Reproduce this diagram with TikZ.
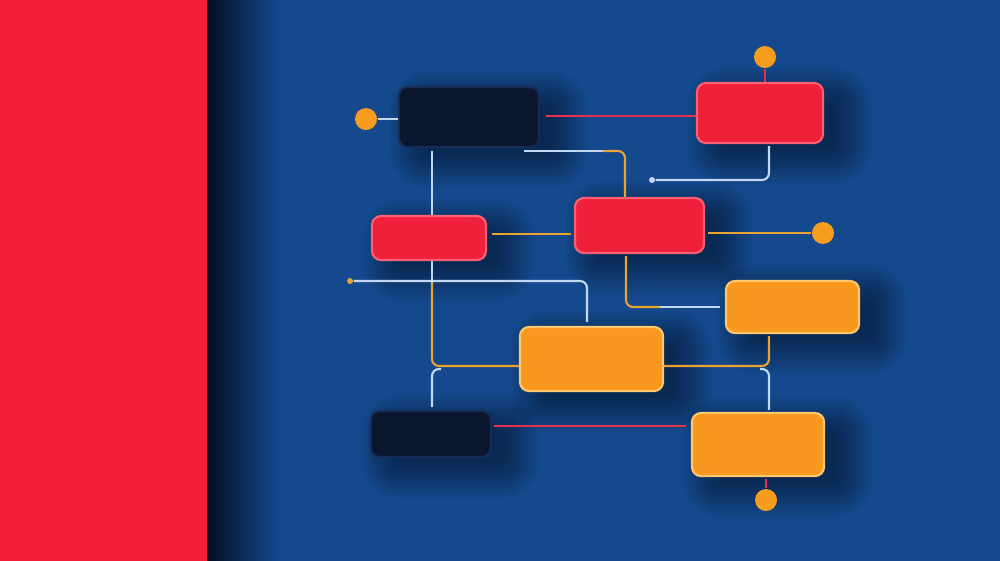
\documentclass[tikz,border=0pt]{standalone}
\usetikzlibrary{calc}
\pgfdeclarelayer{bglayer}
\pgfdeclarelayer{shadowlayer}
\pgfsetlayers{bglayer,shadowlayer,main}
\definecolor{bgblue}{RGB}{20,73,141}
\definecolor{panelshade}{RGB}{4,10,32}
\definecolor{panelred}{RGB}{243,30,58}
\definecolor{boxred}{RGB}{238,32,58}
\definecolor{boxredrim}{RGB}{255,95,115}
\definecolor{boxorange}{RGB}{248,152,30}
\definecolor{boxorangerim}{RGB}{255,198,110}
\definecolor{boxdark}{RGB}{10,21,46}
\definecolor{boxdarkrim}{RGB}{22,44,86}
\definecolor{lineblue}{RGB}{192,216,242}
\definecolor{lineorange}{RGB}{234,162,50}
\definecolor{linered}{RGB}{228,50,78}
\definecolor{dotorange}{RGB}{246,156,30}
\tikzset{
  card/.style={rectangle, rounded corners=0.09cm, inner sep=0pt, line width=0.6pt},
  redcard/.style={card, fill=boxred, draw=boxredrim},
  orangecard/.style={card, fill=boxorange, draw=boxorangerim},
  darkcard/.style={card, fill=boxdark, draw=boxdarkrim},
  bigdot/.style={circle, fill=dotorange, minimum size=0.22cm, inner sep=0pt},
  tinydot/.style={circle, fill=lineblue, minimum size=0.06cm, inner sep=0pt},
  tinydotor/.style={circle, fill=lineorange, minimum size=0.06cm, inner sep=0pt},
  lb/.style={draw=lineblue, line width=0.6pt},
  lo/.style={draw=lineorange, line width=0.6pt},
  lr/.style={draw=linered, line width=0.75pt},
}
\newcommand{\softshadow}[1]{%
  \begin{pgfonlayer}{shadowlayer}
    \foreach \g in {-3,...,8}{%
      \fill[black, opacity=0.038, rounded corners={3pt+max(\g,0)*0.9pt}]
        ($(#1.south west)+(5pt-\g*0.9pt,-4pt-\g*0.9pt)$) rectangle
        ($(#1.north east)+(6pt+\g*0.9pt,-3pt+\g*0.9pt)$);
    }
  \end{pgfonlayer}}
\begin{document}
\begin{tikzpicture}[x=0.01cm, y=-0.01cm]
  \useasboundingbox (0,0) rectangle (1000,560);
  \begin{pgfonlayer}{bglayer}
    \fill[bgblue] (-10,-10) rectangle (1010,570);
    \shade[left color=panelshade, right color=bgblue, middle color=panelshade!45!bgblue] (207,570) rectangle (280,-10);
    \fill[panelred] (-10,-10) rectangle (207,570);
  \end{pgfonlayer}

  % boxes
  \node[darkcard,   minimum width=1.40cm, minimum height=0.60cm] (A) at (469,117) {};
  \node[redcard,    minimum width=1.26cm, minimum height=0.60cm] (B) at (760,113) {};
  \node[redcard,    minimum width=1.29cm, minimum height=0.55cm] (C) at (639.5,225.5) {};
  \node[redcard,    minimum width=1.14cm, minimum height=0.44cm] (D) at (429,238) {};
  \node[orangecard, minimum width=1.33cm, minimum height=0.52cm] (E) at (792.5,307) {};
  \node[orangecard, minimum width=1.43cm, minimum height=0.64cm] (F) at (591.5,359) {};
  \node[darkcard,   minimum width=1.20cm, minimum height=0.46cm] (G) at (431,434) {};
  \node[orangecard, minimum width=1.32cm, minimum height=0.63cm] (H) at (758,444.5) {};
  \foreach \n in {A,B,C,D,E,F,G,H}{\softshadow{\n}}

  % dots
  \node[bigdot] (dotL) at (366,119) {};
  \node[bigdot] (dotT) at (765,57) {};
  \node[bigdot] (dotR) at (823,233) {};
  \node[bigdot] (dotB) at (766,500) {};
  \node[tinydot] (tdB) at (652,180) {};
  \node[tinydotor] (tdL) at (350,281) {};

  % junction coordinates
  \coordinate (ac1) at (524,151);
  \coordinate (ac2) at (603,151);
  \coordinate (dj) at (432,283);
  \coordinate (cj) at (660,307);
  \coordinate (gj) at (441,369);
  \coordinate (hj) at (760,369);

  % connectors
  \draw[lb] (dotL) -- (A.west |- dotL);
  \draw[lr] (dotT) -- (dotT |- B.north);
  \draw[lr, shorten <=0.06cm] (A.east |- 0,116) -- (B.west |- 0,116);
  \draw[lb] (ac1) -- (ac2);
  \draw[lo, rounded corners=0.07cm] (ac2) -| (C.north -| 625,0);
  \draw[lb, rounded corners=0.07cm, shorten <=0.02cm] (B.south -| 769,0) |- (tdB);
  \draw[lb, shorten <=0.03cm] (A.south -| 432,0) -- (D.north -| 432,0);
  \draw[lo, shorten <=0.05cm, shorten >=0.03cm] (D.east |- 0,234) -- (C.west |- 0,234);
  \draw[lo, shorten <=0.03cm] (C.east |- 0,233) -- (dotR);
  \draw[lb] (D.south -| 432,0) -- (dj);
  \draw[lo, rounded corners=0.07cm] (dj) |- (F.west |- 0,366);
  \draw[lb, rounded corners=0.07cm, shorten >=0.04cm] (tdL) -| (F.north -| 587,0);
  \draw[lo, rounded corners=0.07cm, shorten <=0.02cm] (C.south -| 626,0) |- (cj);
  \draw[lb, shorten >=0.05cm] (cj) -- (E.west |- 0,307);
  \draw[lo, rounded corners=0.07cm, shorten <=0.02cm] (E.south -| 769,0) |- (F.east |- 0,366);
  \draw[lb, rounded corners=0.07cm, shorten >=0.03cm] (gj) -| (G.north -| 432,0);
  \draw[lb, rounded corners=0.07cm, shorten >=0.02cm] (hj) -| (H.north -| 769,0);
  \draw[lr, shorten <=0.02cm, shorten >=0.05cm] (G.east |- 0,426) -- (H.west |- 0,426);
  \draw[lr, shorten <=0.02cm] (H.south -| 766,0) -- (dotB);
\end{tikzpicture}
\end{document}
